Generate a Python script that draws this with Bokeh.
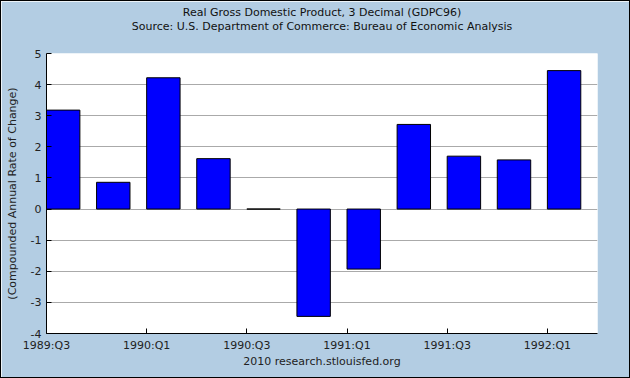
from bokeh.plotting import figure
from bokeh.models import Range1d, FixedTicker, LinearAxis
from bokeh.embed import file_html
from bokeh.resources import INLINE

quarters = ["1989:Q3", "1989:Q4", "1990:Q1", "1990:Q2", "1990:Q3", "1990:Q4",
            "1991:Q1", "1991:Q2", "1991:Q3", "1991:Q4", "1992:Q1"]
growth = [3.18, 0.86, 4.22, 1.62, 0.0, -3.45, -1.93, 2.72, 1.70, 1.58, 4.45]
y_ticks = [-4, -3, -2, -1, 0, 1, 2, 3, 4, 5]

title_text = "Real Gross Domestic Product, 3 Decimal (GDPC96)"
subtitle_text = "Source: U.S. Department of Commerce: Bureau of Economic Analysis"
y_label = "(Compounded Annual Rate of Change)"
footer = "2010 research.stlouisfed.org"

BG = "#B3CDE3"
FONT = "DejaVu Sans"

p = figure(width=630, height=378, output_backend="svg", toolbar_location=None,
           x_range=Range1d(0, len(quarters)), y_range=Range1d(-4, 5),
           min_border_left=45, min_border_right=34, min_border_top=52, min_border_bottom=46)
p.title = None
p.border_fill_color = BG
p.background_fill_color = "white"
p.outline_line_color = None

xax = p.below[0]
yax = p.left[0]

xs = [i + 0.333 for i in range(len(quarters))]
p.vbar(x=xs, top=growth, bottom=0, width=0.667, fill_color="#0000FF", line_color="black", line_width=1)

# header lines as labels of tick-less axes stacked above the frame
def header_axis(text, standoff):
    ax = LinearAxis(ticker=FixedTicker(ticks=[]), axis_label=text,
                    axis_line_color=None, major_tick_line_color=None,
                    minor_tick_line_color=None, major_tick_in=0, major_tick_out=0,
                    axis_label_text_font=FONT, axis_label_text_font_size="11px",
                    axis_label_text_font_style="normal", axis_label_text_color="#111111",
                    axis_label_standoff=standoff)
    p.add_layout(ax, "above")

header_axis(subtitle_text, 21)
header_axis(title_text, -2)

ticks = [i for i in range(len(quarters)) if i % 2 == 0]
xax.ticker = FixedTicker(ticks=ticks)
xax.major_label_overrides = {i: quarters[i] for i in ticks}
yax.ticker = FixedTicker(ticks=y_ticks)
yax.major_label_overrides = {t: str(t) for t in y_ticks}

for ax in (xax, yax):
    ax.axis_line_color = "black"
    ax.major_tick_line_color = "black"
    ax.major_tick_in = 5
    ax.major_tick_out = 0
    ax.minor_tick_line_color = None
    ax.major_label_text_font = FONT
    ax.major_label_text_font_size = "11px"
    ax.major_label_text_color = "#222222"
    ax.axis_label_text_font = FONT
    ax.axis_label_text_font_size = "11px"
    ax.axis_label_text_font_style = "normal"
    ax.axis_label_text_color = "#222222"

yax.axis_label = y_label
yax.major_label_standoff = 5
yax.axis_label_standoff = 9
xax.axis_label = footer
xax.major_label_standoff = 5
xax.axis_label_standoff = 0

p.xgrid.grid_line_color = None
p.ygrid.ticker = FixedTicker(ticks=y_ticks)
p.ygrid.grid_line_color = "#AAAAAA"

p.styles = {"border": "1px solid black", "box-sizing": "border-box"}

open("out.html", "w").write(file_html(p, INLINE))
